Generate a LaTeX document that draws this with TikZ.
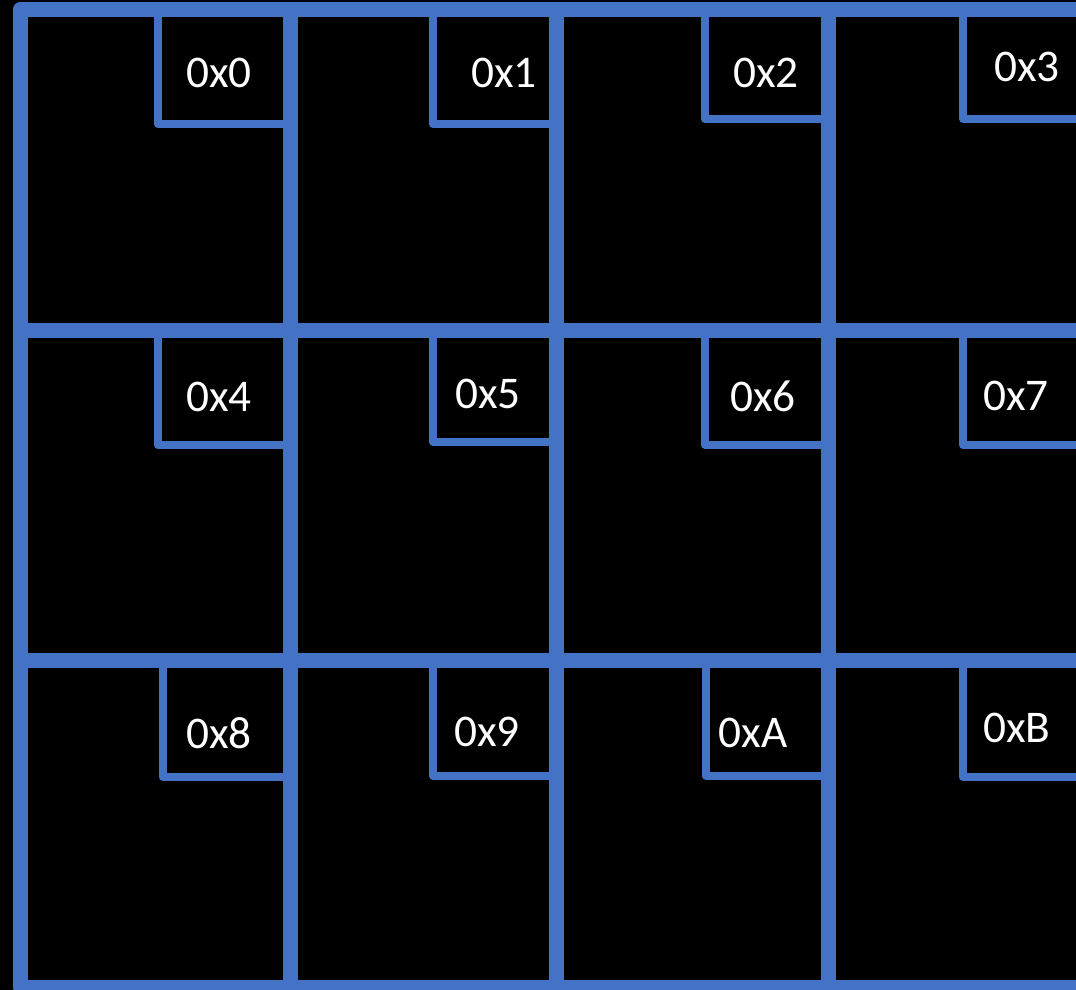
\documentclass[tikz,border=0pt]{standalone}
\usepackage{fontspec}
\setmainfont{Carlito}
\definecolor{gridblue}{HTML}{4472C4}
\tikzset{
    gridline/.style={draw=gridblue, line width=11.25pt, line join=round},
    cornerbox/.style={draw=gridblue, line width=6pt, line join=round},
    addr/.style={text=white, font=\fontsize{34}{40}\selectfont, inner sep=0pt}
}

\begin{document}
\begin{tikzpicture}[x=0.75pt, y=-0.75pt]
        \useasboundingbox (0,0) rectangle (1076,990);
        \fill[black] (0,0) rectangle (1076,990);
        \clip (0,0) rectangle (1076,990);
        % grid
        \draw[gridline] (1100,9) -- (20.5,9) -- (20.5,987) -- (1100,987);
        \draw[gridline] (20.5,330) -- (1100,330);
        \draw[gridline] (20.5,660) -- (1100,660);
        \draw[gridline] (290,9) -- (290,987);
        \draw[gridline] (556,9) -- (556,987);
        \draw[gridline] (828,9) -- (828,987);
        % corner boxes
        \draw[cornerbox] (158,9) -- (158,124) -- (290,124);
        \draw[cornerbox] (433,9) -- (433,124) -- (556,124);
        \draw[cornerbox] (705,9) -- (705,119) -- (828,119);
        \draw[cornerbox] (963,9) -- (963,119) -- (1100,119);
        \draw[cornerbox] (158,330) -- (158,445) -- (290,445);
        \draw[cornerbox] (433,330) -- (433,442) -- (556,442);
        \draw[cornerbox] (705,330) -- (705,445) -- (828,445);
        \draw[cornerbox] (963,330) -- (963,445) -- (1100,445);
        \draw[cornerbox] (163,660) -- (163,777) -- (290,777);
        \draw[cornerbox] (433,660) -- (433,776) -- (556,776);
        \draw[cornerbox] (706,660) -- (706,776) -- (828,776);
        \draw[cornerbox] (963,660) -- (963,777) -- (1100,777);
        % addresses
        \node[addr] (a0) at (219,73) {0x0};
        \node[addr] (a1) at (504,73) {0x1};
        \node[addr] (a2) at (766,73) {0x2};
        \node[addr] (a3) at (1027,67) {0x3};
        \node[addr] (a4) at (219,397) {0x4};
        \node[addr] (a5) at (488,394) {0x5};
        \node[addr] (a6) at (763,396) {0x6};
        \node[addr] (a7) at (1016,396) {0x7};
        \node[addr] (a8) at (219,733) {0x8};
        \node[addr] (a9) at (487,732) {0x9};
        \node[addr] (aA) at (753,733) {0xA};
        \node[addr] (aB) at (1017,728) {0xB};
    \end{tikzpicture}
\end{document}
